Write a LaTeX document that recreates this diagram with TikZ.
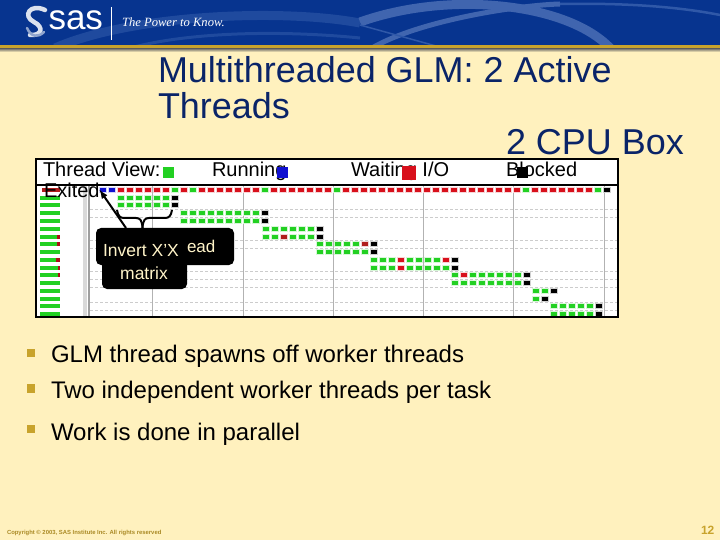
\documentclass[tikz,border=0pt]{standalone}
\usepackage{fontspec}
\setmainfont{Liberation Sans}
\newfontfamily\sloganfont{Liberation Serif}
\usetikzlibrary{positioning}
\definecolor{slidebg}{HTML}{FFF1BE}
\definecolor{bandblue}{HTML}{07348F}
\definecolor{swoosh}{HTML}{2F58A8}
\definecolor{titleblue}{HTML}{0A2468}
\definecolor{gold}{HTML}{C8A32C}
\definecolor{cream}{HTML}{FFF4C8}
\definecolor{tg}{HTML}{22D022}
\definecolor{tr}{HTML}{D8101C}
\definecolor{td}{HTML}{B01C1C}
\definecolor{tk}{HTML}{000000}
\definecolor{tb}{HTML}{1010D0}
\newcommand{\threadrow}[3]{%
  \foreach \c [count=\i from 0] in {#3}{
    \fill[\c!18] (#2+9*\i-4,#1-3) rectangle ++(8,6);
    \fill[\c] (#2+9*\i-3,#1-2) rectangle ++(6,4);}}
\tikzset{
  txt/.style={inner sep=0pt,outer sep=0pt,anchor=base west},
  legend/.style={txt,font=\fontsize{20}{24}\selectfont},
  bullet/.style={txt,font=\fontsize{24}{28}\selectfont},
  title/.style={txt,text=titleblue,font=\fontsize{35.95}{36}\selectfont,align=left},
  callout/.style={fill=black,rounded corners=5pt,inner sep=0pt,text=cream},
  swatch/.style={minimum size=11pt,inner sep=0pt,outer sep=0pt}
}
\begin{document}
\begin{tikzpicture}[x=1pt,y=-1pt]
  \useasboundingbox (0,0) rectangle (720,540);
  \fill[slidebg] (0,0) rectangle (720,540);
  % header band
  \fill[bandblue] (0,0) rectangle (720,45);
  \begin{scope}
    \clip (0,0) rectangle (720,45);
    \draw[swoosh!60!bandblue,line width=9pt] (55,48) .. controls (130,15) and (280,8) .. (360,23);
    \draw[swoosh!92!white,line width=9pt] (360,22) .. controls (450,-10) and (570,3) .. (612,50);
    \draw[swoosh!92!white,line width=5pt] (372,48) .. controls (420,20) and (520,5) .. (560,4);
    \draw[swoosh,line width=2.5pt] (560,4) .. controls (610,3) and (670,5) .. (720,15);
    \draw[swoosh,line width=1.5pt] (360,25) -- (436,46);
    \draw[swoosh!60!bandblue,line width=3pt] (130,48) .. controls (190,32) and (280,30) .. (360,38);
  \end{scope}
  \shade[top color=gray!70!black,bottom color=slidebg] (0,48) rectangle (720,52);
  \fill[gold] (0,45) rectangle (720,48);
  % logo
  \draw[white!85!bandblue,line width=4.5pt,line cap=round] (45,10) .. controls (30,3) and (22,16) .. (34,22) .. controls (44,27) and (42,36) .. (30,35);
  \draw[white!55!bandblue,line width=2.5pt,line cap=round] (27,28) .. controls (31,37) and (38,38) .. (44,32);
  \node[txt,text=white,font=\fontsize{35}{35}\selectfont] (saslogo) at (48.5,29.5) {sas};
  \draw[white,line width=.7pt] (111,7) -- (111,40);
  \node[txt,text=white,font=\sloganfont\itshape\fontsize{12.6}{14}\selectfont] (slogan) at (122,26.5) {The Power to Know.};
  % titles
  \node[title] (headline) at (158,119) {Multithreaded GLM: 2 Active\\[0pt]Threads};
  \node[title] (cpubox) at (506,155) {2 CPU Box};
  % chart frame
  \fill[white] (36,159) rectangle (618,317);
  \foreach \y in {209,217,240,248,271.5,279.5,287.5,302.5,310}
    \draw[gray!40,line width=.5pt,dash pattern=on 3pt off 2pt] (90,\y) -- (617,\y);
  \foreach \x in {152.3,243.3,333.3,423.3,513.3,604.3}
    \draw[gray!60,line width=.7pt] (\x,185) -- (\x,317);
  \fill[gray!30] (83,185) rectangle (87,317);
  \fill[gray!75] (87.5,185) rectangle (89.5,317);
  % left bars
  \foreach \y/\e in {197.7/60,205.3/60,213.3/60,221/60,229/60,237/57,244.3/57,252/60,260/56,268/58,275.3/58,283.3/60,290.7/60,299/60,306.3/60,314.3/60}{
    \fill[tr!80!black] (40,\y-2) rectangle (60,\y+2);
    \fill[tg] (40,\y-2) rectangle (\e,\y+2);}
  \fill[td] (42,188) rectangle (60,192);
  % thread rows
  \threadrow{190}{103}{tb,tb,tr,tr,tr,tr,tr,tr,tg,tr,tg,tr,tr,tr,tr,tr,tr,tr,tg,tr,tr,tr,tr,tr,tr,tr,tg,tr,tr,tr,tr,tr,tr,tr,tr,tr,tr,tr,tr,tr,tr,tr,tr,tr,tr,tr,tr,tg,tr,tr,tr,tr,tr,tr,tr,tg,tk}
  \threadrow{197.7}{121}{tg,tg,tg,tg,tg,tg,tk}
  \threadrow{205.3}{121}{tg,tg,tg,tg,tg,tg,tk}
  \threadrow{213.3}{184}{tg,tg,tg,tg,tg,tg,tg,tg,tg,tk}
  \threadrow{221}{184}{tg,tg,tg,tg,tg,tg,tg,tg,tg,tk}
  \threadrow{229}{266}{tg,tg,tg,tg,tg,tg,tk}
  \threadrow{237}{266}{tg,tg,td,tg,tg,tg,tk}
  \threadrow{244.3}{320}{tg,tg,tg,tg,tg,td,tk}
  \threadrow{252}{320}{tg,tg,tg,tg,tg,tg,tk}
  \threadrow{260}{374}{tg,tg,tg,tr,tg,tg,tg,tg,tr,tk}
  \threadrow{268}{374}{tg,tg,tg,tr,tg,tg,tg,tg,tg,tk}
  \threadrow{275.3}{455}{tg,tr,tg,tg,tg,tg,tg,tg,tk}
  \threadrow{283.3}{455}{tg,tg,tg,tg,tg,tg,tg,tg,tk}
  \threadrow{290.7}{536}{tg,tg,tk}
  \threadrow{299}{536}{tg,tk}
  \threadrow{306.3}{554}{tg,tg,tg,tg,tg,tk}
  \threadrow{314.3}{554}{tg,tg,tg,tg,tg,tk}
  \draw[line width=2pt] (36,159) rectangle (618,317);
  \draw[line width=2pt] (36,185) -- (618,185);
  % legend
  \node[legend] (threadview) at (43,177) {Thread View:};
  \node[legend] (exited) at (44,197) {Exited};
  \node[legend] (running) at (212,177) {Running};
  \node[legend] (waiting) at (351,177) {Waiting I/O};
  \node[legend] (blocked) at (506,177) {Blocked};
  \node[swatch,fill=tg] (swrun) at (168.5,173) {};
  \node[swatch,fill=tb] (swwait) at (282,172.5) {};
  \node[swatch,fill=tr,minimum size=14pt] (swblock) at (409,173.5) {};
  \node[swatch,fill=black] (swexit) at (522,172.5) {};
  % callouts
  \node[callout,minimum width=138pt,minimum height=37pt] (calloutback) at (165,246.5) {};
  \node[callout,minimum width=85pt,minimum height=40pt] (calloutfront) at (144.5,269) {};
  \node[txt,text=cream,font=\fontsize{17}{17}\selectfont] (readtail) at (187,252) {ead};
  \node[txt,anchor=base,text=cream,font=\fontsize{17.5}{17.5}\selectfont] (invertlabel) at (141,256.5) {Invert X’X};
  \node[txt,anchor=base,text=cream,font=\fontsize{17.5}{17.5}\selectfont] (matrixlabel) at (144,279) {matrix};
  \coordinate (bracefoot) at (142.5,228);
  \coordinate (arrowfoot) at (126,228);
  \draw[line width=2pt,-{latex[scale=.7]}] (arrowfoot) -- (exited.east);
  \draw[line width=2pt] (117,210) .. controls (118,216) and (120,218) .. (124,218) -- (136,218) .. controls (140,218) and (142,220) .. (bracefoot);
  \draw[line width=2pt] (172,210) .. controls (171,216) and (169,218) .. (165,218) -- (149,218) .. controls (145,218) and (143,220) .. (bracefoot);
  % bullets
  \foreach \y in {348.5,384,424.5}
    \fill[gold] (27,\y) rectangle ++(8,8.5);
  \node[bullet] (bulletone) at (51,362) {GLM thread spawns off worker threads};
  \node[bullet] (bullettwo) at (51,398) {Two independent worker threads per task};
  \node[bullet] (bulletthree) at (51,440) {Work is done in parallel};
  % footer
  \node[txt,text=gold!85!black,font=\bfseries\fontsize{5.9}{6}\selectfont] (copyright) at (7,534) {Copyright © 2003, SAS Institute Inc. All rights reserved};
  \node[txt,text=gold,font=\bfseries\fontsize{12}{12}\selectfont] (pagenum) at (701,534) {12};
\end{tikzpicture}
\end{document}
